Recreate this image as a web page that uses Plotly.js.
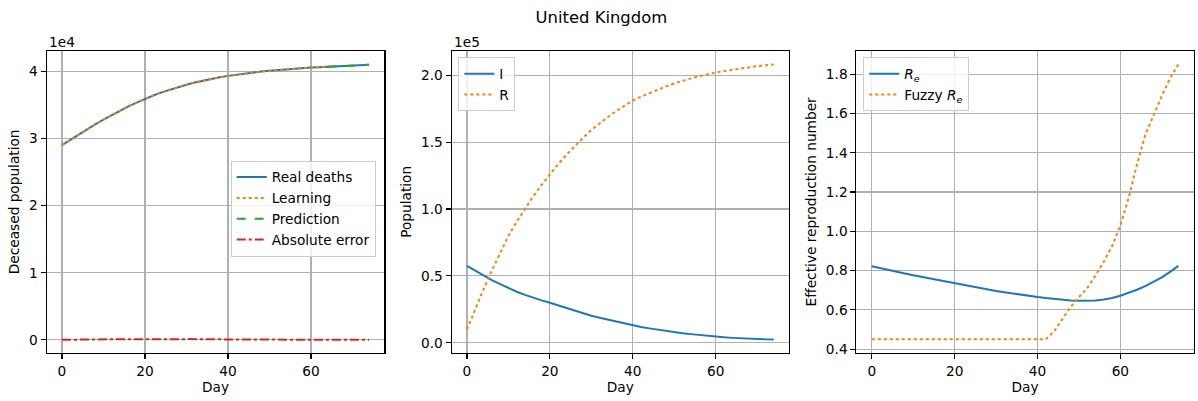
<!DOCTYPE html>
<html>
<head>
<meta charset="utf-8">
<script src="https://cdn.plot.ly/plotly-3.0.1.min.js"></script>
<style>html,body{margin:0;padding:0;background:#fff;}#chart{width:1198px;height:401px;}</style>
</head>
<body>
<div id="chart"></div>
<script>
// ---- data ----
const days = [0,2,4,6,8,10,12,14,16,18,20,22,24,26,28,30,32,34,36,38,40,42,44,46,48,50,52,54,56,58,60,62,64,66,68,70,72,74];
const realDeaths = [29000,29790,30570,31330,32070,32780,33470,34130,34750,35330,35880,36380,36840,37260,37640,37990,38300,38590,38850,39090,39300,39490,39660,39810,39950,40070,40180,40280,40370,40450,40530,40600,40660,40720,40780,40840,40890,40940];
const learningDays = [0,2,4,6,8,10,12,14,16,18,20,22,24,26,28,30,32,34,36,38,40,42,44,46,48,50,52,54,56,58,60,62,64];
const learning = [29000,29790,30570,31330,32070,32780,33470,34130,34750,35330,35880,36380,36840,37260,37640,37990,38300,38590,38850,39090,39300,39490,39660,39810,39950,40070,40180,40280,40370,40450,40530,40600,40660];
const predictionDays = [64,66,68,70,72,74];
const prediction = [40660,40720,40780,40840,40890,40940];
const absError = [20,40,60,30,10,20,50,80,110,90,70,40,30,60,90,120,140,130,100,80,60,40,30,20,30,40,50,40,30,20,30,40,30,20,40,50,30,20];

const infected = [57500,53900,50300,46900,43800,40900,38200,35800,33600,31700,29900,27900,25900,24000,22100,20300,18700,17200,15800,14300,12900,11800,10800,9800,8900,8000,7200,6500,5800,5200,4600,4100,3700,3300,3000,2800,2600,2500];
const recovered = [10000,25500,40000,54000,67500,80000,90500,100500,109500,118000,126000,133500,140500,147000,153200,159000,164000,168800,173200,177300,181000,184000,186700,189200,191600,193800,195800,197600,199200,200700,202000,203100,204100,205000,205900,206700,207400,208000];

const re = [0.822,0.812,0.803,0.794,0.785,0.776,0.768,0.759,0.750,0.741,0.733,0.725,0.717,0.710,0.703,0.696,0.690,0.683,0.677,0.671,0.665,0.660,0.655,0.651,0.648,0.646,0.646,0.648,0.652,0.660,0.672,0.686,0.702,0.721,0.742,0.765,0.793,0.824];
const fuzzyRe = [0.45,0.45,0.45,0.45,0.45,0.45,0.45,0.45,0.45,0.45,0.45,0.45,0.45,0.45,0.45,0.45,0.45,0.45,0.45,0.45,0.45,0.45,0.49,0.55,0.615,0.665,0.71,0.775,0.845,0.925,1.03,1.17,1.34,1.49,1.59,1.69,1.78,1.85];

const xTicks = [0,20,40,60];
const y1TickVals = [0,10000,20000,30000,40000];
const y1TickText = ["0","1","2","3","4"];
const y2TickVals = [0,50000,100000,150000,200000];
const y2TickText = ["0.0","0.5","1.0","1.5","2.0"];
const y3TickVals = [0.4,0.6,0.8,1.0,1.2,1.4,1.6,1.8];
const y3TickText = ["0.4","0.6","0.8","1.0","1.2","1.4","1.6","1.8"];

// ---- style ----
const C = {blue:'#1f77b4', orange:'#ff7f0e', green:'#2ca02c', red:'#d62728'};
const FONT = 'DejaVu Sans, Verdana, sans-serif';
const FS = 13.7;
const LW = 2;

const traces = [
  {x: days, y: realDeaths, name: 'Real deaths', mode: 'lines', line: {color: C.blue, width: LW}, xaxis: 'x', yaxis: 'y', legend: 'legend'},
  {x: learningDays, y: learning, name: 'Learning', mode: 'lines', line: {color: C.orange, width: LW, dash: 'dot'}, xaxis: 'x', yaxis: 'y', legend: 'legend'},
  {x: predictionDays, y: prediction, name: 'Prediction', mode: 'lines', line: {color: C.green, width: LW, dash: 'dash'}, xaxis: 'x', yaxis: 'y', legend: 'legend'},
  {x: days, y: absError, name: 'Absolute error', mode: 'lines', line: {color: C.red, width: LW, dash: 'dashdot'}, xaxis: 'x', yaxis: 'y', legend: 'legend'},
  {x: days, y: infected, name: 'I', mode: 'lines', line: {color: C.blue, width: LW}, xaxis: 'x2', yaxis: 'y2', legend: 'legend2'},
  {x: days, y: recovered, name: 'R', mode: 'lines', line: {color: C.orange, width: LW, dash: 'dot'}, xaxis: 'x2', yaxis: 'y2', legend: 'legend2'},
  {x: days, y: re, name: '<i>R<sub>e</sub></i>', mode: 'lines', line: {color: C.blue, width: LW}, xaxis: 'x3', yaxis: 'y3', legend: 'legend3'},
  {x: days, y: fuzzyRe, name: 'Fuzzy <i>R<sub>e</sub></i>', mode: 'lines', line: {color: C.orange, width: LW, dash: 'dot'}, xaxis: 'x3', yaxis: 'y3', legend: 'legend3'}
];

function xax(domain, anchor) {
  return {domain: domain, anchor: anchor, range: [-3.7, 77.7], tickvals: xTicks, ticks: 'outside', ticklen: 5, tickwidth: 1.1, tickcolor: '#000',
    showline: true, mirror: true, linecolor: '#000', linewidth: 1.1, showgrid: true, gridcolor: '#b0b0b0', gridwidth: 1.1, zeroline: false,
    automargin: false, tickfont: {family: FONT, size: FS, color: '#000'},
    title: {text: 'Day', font: {family: FONT, size: FS, color: '#000'}, standoff: 4}};
}
function yax(domain, anchor, range, tv, tt, title) {
  return {domain: domain, anchor: anchor, range: range, tickvals: tv, ticktext: tt, ticks: 'outside', ticklen: 5, tickwidth: 1.1, tickcolor: '#000',
    showline: true, mirror: true, linecolor: '#000', linewidth: 1.1, showgrid: true, gridcolor: '#b0b0b0', gridwidth: 1.1, zeroline: false,
    automargin: false, tickfont: {family: FONT, size: FS, color: '#000'},
    title: {text: title, font: {family: FONT, size: FS, color: '#000'}, standoff: 6}};
}
const yDom = [0.1197, 0.8736];
const legendStyle = {bgcolor: 'rgba(255,255,255,0.8)', bordercolor: '#cccccc', borderwidth: 1, font: {family: FONT, size: FS, color: '#000'}, xanchor: 'left', yanchor: 'top', xref: 'paper', yref: 'paper', tracegroupgap: 0};

const layout = {
  width: 1198, height: 401,
  margin: {l: 0, r: 0, t: 0, b: 0},
  paper_bgcolor: '#fff', plot_bgcolor: '#fff',
  font: {family: FONT, size: FS, color: '#000'},
  title: {text: 'United Kingdom', x: 0.502, xanchor: 'center', y: 0.957, yanchor: 'middle', font: {family: FONT, size: 16.4, color: '#000'}},
  xaxis: xax([0.0389, 0.3209], 'y'),
  yaxis: yax(yDom, 'x', [-1950, 43050], y1TickVals, y1TickText, 'Deceased population'),
  xaxis2: xax([0.3770, 0.6586], 'y2'),
  yaxis2: yax(yDom, 'x2', [-7600, 218300], y2TickVals, y2TickText, 'Population'),
  xaxis3: xax([0.7149, 0.9964], 'y3'),
  yaxis3: yax(yDom, 'x3', [0.38, 1.92], y3TickVals, y3TickText, 'Effective reproduction number'),
  legend: Object.assign({x: 0.1926, y: 0.5993}, legendStyle),
  legend2: Object.assign({x: 0.3826, y: 0.857}, legendStyle),
  legend3: Object.assign({x: 0.7206, y: 0.857}, legendStyle),
  showlegend: true,
  annotations: [
    {text: '1e4', xref: 'paper', yref: 'paper', x: 0.0389, y: 0.895, xanchor: 'left', yanchor: 'middle', showarrow: false, font: {family: FONT, size: FS, color: '#000'}},
    {text: '1e5', xref: 'paper', yref: 'paper', x: 0.3770, y: 0.895, xanchor: 'left', yanchor: 'middle', showarrow: false, font: {family: FONT, size: FS, color: '#000'}}
  ]
};

Plotly.newPlot('chart', traces, layout, {displayModeBar: false, staticPlot: true});
</script>
</body>
</html>
